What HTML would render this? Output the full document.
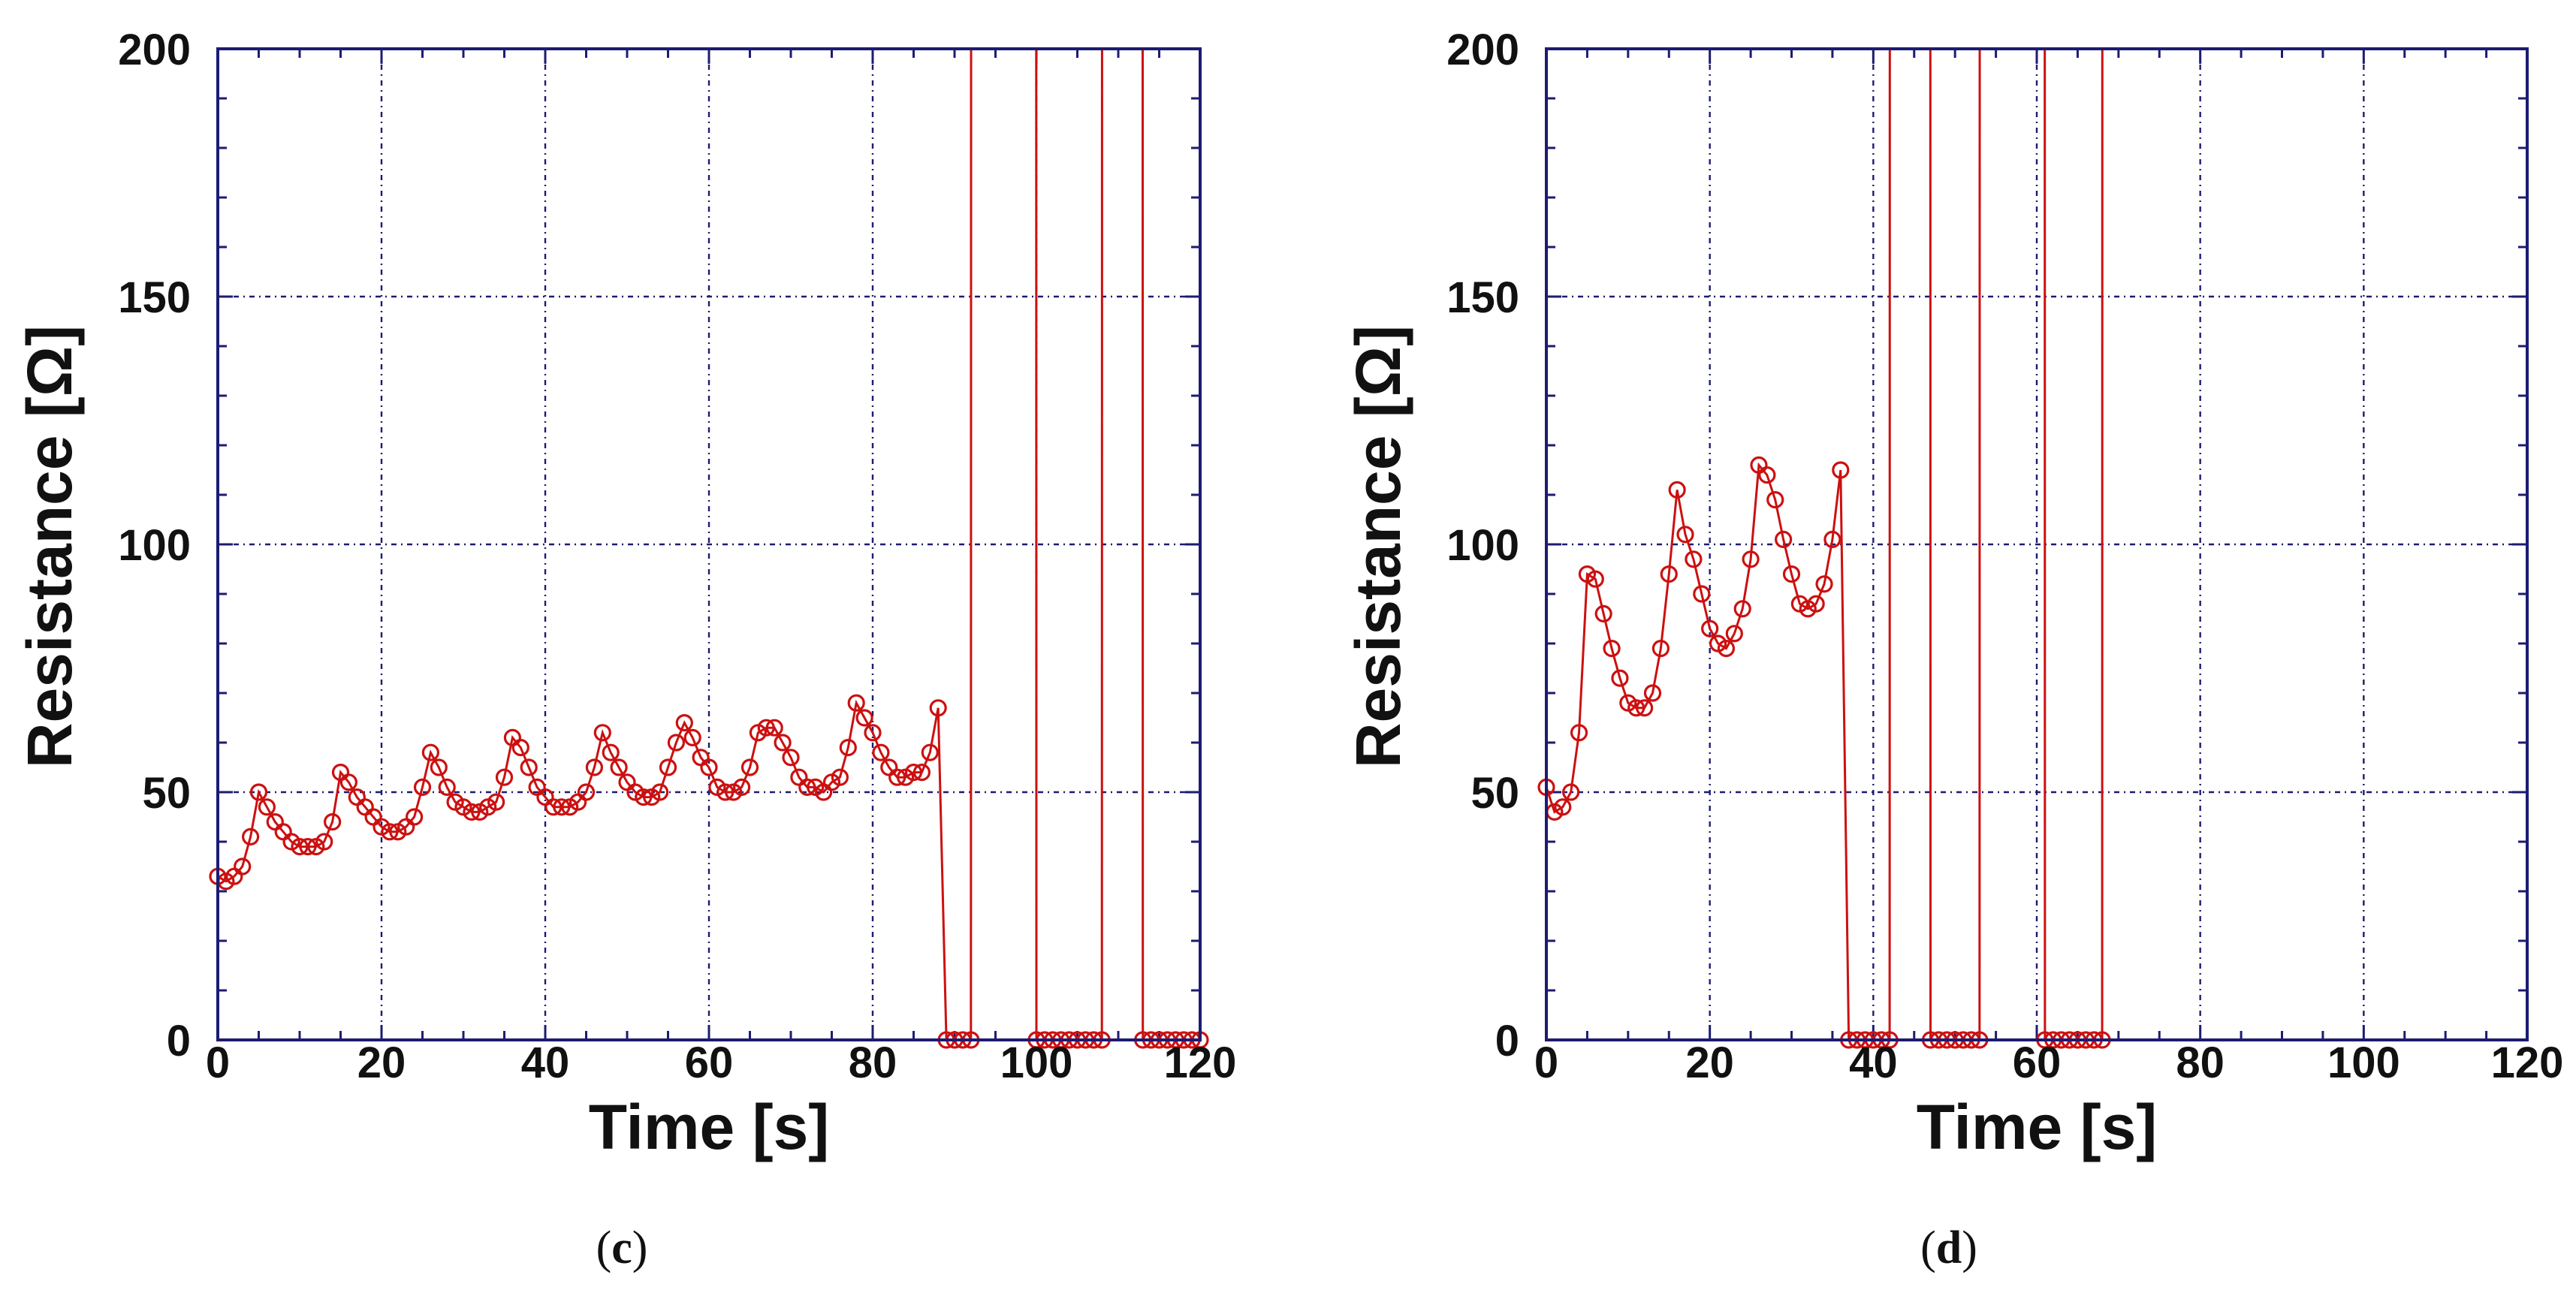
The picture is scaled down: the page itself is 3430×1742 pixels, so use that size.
<!DOCTYPE html>
<html><head><meta charset="utf-8">
<style>
html,body{margin:0;padding:0;background:#fff;}
svg{display:block;}
text{font-family:"Liberation Sans",Arial,sans-serif;}
</style></head>
<body>
<svg id="fig" width="3430" height="1742" viewBox="0 0 3430 1742" xmlns="http://www.w3.org/2000/svg">
<rect width="3430" height="1742" fill="#fff"/>
</svg>
<script>
const OV = 10000;
const xTicks = [0,20,40,60,80,100,120];
const yTicks = [0,50,100,150,200];
const timesC = [];
for (let t = 0; t <= 120; t++) timesC.push(t);
const valuesC = [33,32,33,35,41,50,47,44,42,40,39,39,39,40,44,54,52,49,47,45,43,42,42,43,45,51,58,55,51,48,47,46,46,47,48,53,61,59,55,51,49,47,47,47,48,50,55,62,58,55,52,50,49,49,50,55,60,64,61,57,55,51,50,50,51,55,62,63,63,60,57,53,51,51,50,52,53,59,68,65,62,58,55,53,53,54,54,58,67,
0,0,0,0,OV,OV,OV,OV,OV,OV,OV,0,0,0,0,0,0,0,0,0,OV,OV,OV,OV,0,0,0,0,0,0,0,0];
const timesD = [];
for (let t = 0; t <= 69; t++) timesD.push(t);
const valuesD = [51,46,47,50,62,94,93,86,79,73,68,67,67,70,79,94,111,102,97,90,83,80,79,82,87,97,116,114,109,101,94,88,87,88,92,101,115,
0,0,0,0,0,0,OV,OV,OV,OV,0,0,0,0,0,0,0,OV,OV,OV,OV,OV,OV,OV,0,0,0,0,0,0,0,0,OV];

const NS = "http://www.w3.org/2000/svg";
const svg = document.getElementById('fig');
function mk(tag, attrs, parent){
  const e = document.createElementNS(NS, tag);
  for (const k in attrs) e.setAttribute(k, attrs[k]);
  (parent||svg).appendChild(e);
  return e;
}
const NAVY = "#1c1c72", RED = "#cc1010";

function drawPanel(id, left, right, top, bottom, times, values, letter, letterX){
  const g = mk('g', {});
  
  
  const xs = v => left + (v - 0) / 120 * (right - left);
  const ys = v => bottom - v / 200 * (bottom - top);
  const grid = mk('g', {}, g);
  
  
  xTicks.slice(1, -1).forEach(v => mk('line', {x1:xs(v), x2:xs(v), y1:top, y2:bottom, stroke:NAVY, 'stroke-width':2.4, 'stroke-dasharray':'7 6 2 6'}, grid));
  yTicks.slice(1, -1).forEach(v => mk('line', {x1:left, x2:right, y1:ys(v), y2:ys(v), stroke:NAVY, 'stroke-width':2.4, 'stroke-dasharray':'7 6 2 6'}, grid));
  const ticks = mk('g', {stroke:NAVY, 'stroke-width':3}, g);
  
  
  for (let v = 0; v <= 120; v += 5){
    const L = (v % 20 === 0) ? 20 : 12;
    mk('line', {x1:xs(v), x2:xs(v), y1:bottom, y2:bottom - L}, ticks);
    mk('line', {x1:xs(v), x2:xs(v), y1:top, y2:top + L}, ticks);
  }
  for (let v = 0; v <= 200; v += 10){
    const L = (v % 50 === 0) ? 20 : 12;
    mk('line', {x1:left, x2:left + L, y1:ys(v), y2:ys(v)}, ticks);
    mk('line', {x1:right, x2:right - L, y1:ys(v), y2:ys(v)}, ticks);
  }
  const cp = mk('clipPath', {id:'clip-' + id}, g);
  mk('rect', {x:left, y:top, width:right-left, height:bottom-top+20}, cp);
  let d = '';
  times.forEach((t, i) => { d += (i ? 'L' : 'M') + xs(t).toFixed(2) + ' ' + ys(values[i]).toFixed(2) + ' '; });
  const line = mk('path', {d:d, fill:'none', stroke:RED, 'stroke-width':3, 'clip-path':'url(#clip-' + id + ')'}, g);
  
  
  const mg = mk('g', {}, g);
  
  
  times.forEach((t, i) => {
    if (values[i] > 200) return;
    const c = mk('circle', {cx:xs(t), cy:ys(values[i]), r:10, fill:'none', stroke:RED, 'stroke-width':3.2}, mg);
    
    
  });
  const fr = mk('rect', {x:left, y:top, width:right-left, height:bottom-top, fill:'none', stroke:NAVY, 'stroke-width':4}, g);
  
  
  xTicks.forEach(v => {
    const tx = mk('text', {x:xs(v), y:1435, 'text-anchor':'middle', 'font-size':58, 'font-weight':'bold', fill:'#111'}, g);
    tx.textContent = v;
    
    
  });
  yTicks.forEach(v => {
    const tx = mk('text', {x:left - 36, y:ys(v) + 21, 'text-anchor':'end', 'font-size':58, 'font-weight':'bold', fill:'#111'}, g);
    tx.textContent = v;
    
    
  });
  const xt = mk('text', {x:(left+right)/2, y:1530, 'text-anchor':'middle', 'font-size':84, 'font-weight':'bold', fill:'#111'}, g);
  xt.textContent = 'Time [s]';
  
  
  const yx = left - 195, yy = 728;
  const yt = mk('text', {x:yx, y:yy, 'text-anchor':'middle', 'font-size':84, 'font-weight':'bold', fill:'#111', transform:'rotate(-90 ' + yx + ' ' + yy + ')'}, g);
  yt.textContent = 'Resistance [Ω]';
  
  
  const lt = mk('text', {x:letterX, y:1682, 'text-anchor':'middle', 'font-size':62, fill:'#111', style:'font-family:"Liberation Serif",serif'}, g);
  lt.innerHTML = '(<tspan font-weight="bold">' + letter + '</tspan>)';
  
  
}
drawPanel('c', 290, 1598, 65, 1385, timesC, valuesC, 'c', 828);
drawPanel('d', 2059, 3365, 65, 1385, timesD, valuesD, 'd', 2595);
</script>
</body></html>
